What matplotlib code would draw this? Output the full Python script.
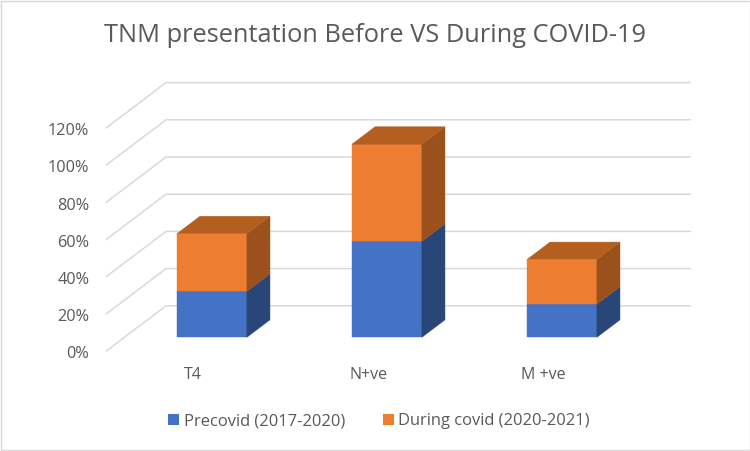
import matplotlib
matplotlib.use('Agg')
import matplotlib.pyplot as plt
from matplotlib.patches import Polygon, Patch

plt.rcParams['font.family'] = ['Open Sans', 'DejaVu Sans']

categories = ['T4', 'N+ve', 'M +ve']
precovid = [24.7, 51.6, 17.8]
during_covid = [31.0, 52.2, 24.0]
y_ticks = [0, 20, 40, 60, 80, 100, 120]
series_names = ['Precovid (2017-2020)', 'During covid (2020-2021)']

W, H = 750, 451
# pixel scale of the fake 3d box
px_cat = 175.0     # one category band
px_pct = 1.86      # one percent
px_dx = 60.3       # full depth, to the right
px_dy = 45.7       # full depth, upward
left_px = 105.7
floor_px = 351.5
bar_width = 0.4
d_front, d_back = 0.31, 0.693

BLUE, BLUE_SIDE = '#4472C4', '#294678'
ORANGE, ORANGE_SIDE, ORANGE_TOP = '#ED7D31', '#9A511C', '#B45F20'
GRID = '#D9D9D9'
TEXT = '#595959'


def proj(x, pct, d):
    # oblique projection, depth d goes from 0 (front) to 1 (back wall)
    return x + d * px_dx / px_cat, pct + d * px_dy / px_pct


def face(ax, pts, color):
    ax.add_patch(Polygon([proj(*p) for p in pts], closed=True, facecolor=color,
                         edgecolor=color, linewidth=0.3, zorder=3))


def draw_segment(ax, x, low, high, front, side):
    x0, x1 = x - bar_width / 2, x + bar_width / 2
    face(ax, [(x0, low, d_front), (x1, low, d_front),
              (x1, high, d_front), (x0, high, d_front)], front)
    face(ax, [(x1, low, d_front), (x1, low, d_back),
              (x1, high, d_back), (x1, high, d_front)], side)


fig = plt.figure(figsize=(W / 100, H / 100), dpi=100)
ax = fig.add_axes([0, 0, 1, 1])
x_start = -0.5 - left_px / px_cat
ax.set_xlim(x_start, x_start + W / px_cat)
ax.set_ylim(-(H - floor_px) / px_pct, floor_px / px_pct)
ax.axis('off')

x_lo, x_hi = -0.5, len(categories) - 0.5
for t in y_ticks:
    xs, ys = zip(proj(x_lo, t, 0), proj(x_lo, t, 1), proj(x_hi, t, 1))
    ax.plot(xs, ys, color=GRID, linewidth=1.1, zorder=1, solid_capstyle='butt')
    ax.text(x_lo - 16.5 / px_cat, t - 1.6, f'{t}%', ha='right', va='center',
            fontsize=11.7, color=TEXT)

for i, name in enumerate(categories):
    blue = precovid[i]
    total = blue + during_covid[i]
    draw_segment(ax, i, 0, blue, BLUE, BLUE_SIDE)
    draw_segment(ax, i, blue, total, ORANGE, ORANGE_SIDE)
    x0, x1 = i - bar_width / 2, i + bar_width / 2
    face(ax, [(x0, total, d_front), (x1, total, d_front),
              (x1, total, d_back), (x0, total, d_back)], ORANGE_TOP)
    ax.text(i, -12.6, name, ha='center', va='center', fontsize=11.5, color=TEXT)

fig.text(375 / W, 1 - 35 / H, 'TNM presentation Before VS During COVID-19',
         ha='center', va='center', fontsize=18.25, color=TEXT)

handles = [Patch(facecolor=BLUE, label=series_names[0]),
           Patch(facecolor=ORANGE, label=series_names[1])]
fig.legend(handles=handles, ncol=2, frameon=False, loc='center',
           bbox_to_anchor=(379 / W, 1 - 421 / H), fontsize=11.9, labelcolor=TEXT,
           handlelength=0.68, handleheight=0.68, handletextpad=0.25, columnspacing=2.3)

# thin chart frame around the whole picture
fig.add_artist(plt.Rectangle((0.5 / W, 1.5 / H), (W - 1) / W, (H - 2.5) / H, fill=False,
                             edgecolor=GRID, linewidth=1.0, transform=fig.transFigure))

fig.savefig('out.png', dpi=100, facecolor='white')
